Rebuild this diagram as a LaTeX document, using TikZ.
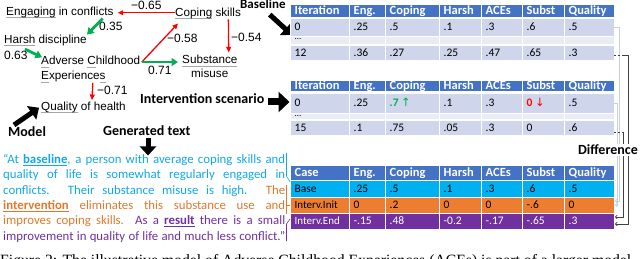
\documentclass[tikz,border=0pt]{standalone}
\usepackage{fontspec}
\setmainfont{Liberation Sans}
\newfontfamily\calfont{Carlito}
\newfontfamily\tmsfont{Liberation Serif}
\newfontfamily\djv{DejaVu Sans}
\usetikzlibrary{arrows.meta}
\definecolor{hdr}{HTML}{4472C4}
\definecolor{bandA}{HTML}{CFD5EA}
\definecolor{bandB}{HTML}{E9EBF5}
\definecolor{cyanrow}{HTML}{00B0F0}
\definecolor{orangerow}{HTML}{ED7D31}
\definecolor{purplerow}{HTML}{7030A0}
\definecolor{redA}{HTML}{FF0000}
\definecolor{greenA}{HTML}{00B050}
\definecolor{txtblue}{HTML}{12A8E8}
\definecolor{txtorange}{HTML}{E0782E}
\definecolor{txtpurple}{HTML}{7030A0}
\definecolor{ulgray}{HTML}{A6A6A6}
\definecolor{lightconn}{HTML}{C5CFE8}
\definecolor{darkconn}{HTML}{404040}
\newlength\ulw
\newcommand\gul[1]{\settowidth\ulw{#1}\rlap{\color{ulgray}\rule[-2.6pt]{\ulw}{0.9pt}}#1}
\newcommand\cul[1]{\settowidth\ulw{#1}\rlap{\rule[-2.2pt]{\ulw}{0.9pt}}#1}
\newcommand\tabrow[5]{%
  \foreach \t [count=\i from 0] in {#5} {
    \pgfmathsetmacro\xa{{290,349,385,439,481,522,564,614}[\i]}
    \pgfmathsetmacro\xb{{290,349,385,439,481,522,564,614}[\i+1]}
    \fill[#3] (\xa,#1) rectangle (\xb,#2);
    \draw[white, line width=0.9] (\xa,#1) rectangle (\xb,#2);
    \node[#4] at (\xa+4.5,{(#1+#2)/2+3.8}) {\t};
  }}
\tikzset{
  lbl/.style={font=\fontsize{11.7}{13}\selectfont, inner sep=0, anchor=base west},
  numlbl/.style={font=\fontsize{12}{14}\selectfont, inner sep=0, anchor=base west},
  redarr/.style={draw=redA, line width=1.3, -{Triangle[length=5.5,width=5]}},
  greenarr/.style={draw=greenA, line width=2.8, -{Triangle[length=6.5,width=8]}},
  fatarr/.style={draw=black, line width=5, -{Triangle[length=9,width=16]}},
  boldlbl/.style={font=\calfont\bfseries\fontsize{14}{16}\selectfont, inner sep=0, anchor=base west},
  hdrtxt/.style={font=\calfont\bfseries\fontsize{12.5}{14}\selectfont, text=white, inner sep=0, anchor=base west},
  dat/.style={font=\calfont\fontsize{11.5}{13}\selectfont, inner sep=0, anchor=base west},
  datw/.style={dat, text=white},
  lightc/.style={draw=lightconn, line width=0.7, -{To[length=2.5,width=4]}},
  darkc/.style={draw=darkconn, line width=0.7, dash pattern=on 2pt off 2pt on 2pt off 2pt on 1000pt off 0pt, -{To[length=2.5,width=4]}},
  brk/.style={line width=0.6},
}
\begin{document}
\begin{tikzpicture}[x=1pt,y=-1pt]
\useasboundingbox (0,0) rectangle (640,259);
\clip (0,0) rectangle (640,259);
% ---------------- model ----------------
\node[lbl] (eng) at (6,15.7) {\gul{Engaging} in conflicts};
\node[lbl] (cop) at (175,16.7) {\gul{Coping} skills};
\node[lbl] (har) at (4,43.3) {\gul{Harsh} discipline};
\node[lbl] (ace1) at (41,65) {\gul{A}dverse \gul{C}hildhood};
\node[lbl] (ace2) at (41,80) {\gul{E}xperience\gul{s}};
\node[lbl] (sub1) at (182,64) {\gul{Substance}};
\node[lbl] (sub2) at (191,77.5) {misuse};
\node[lbl] (qol) at (41,110.7) {\gul{Quality} of health};
\node[numlbl] (l1) at (131,10) {−0.65};
\node[numlbl] (l2) at (99,31) {0.35};
\node[numlbl] (l3) at (4,60) {0.63};
\node[numlbl] (l4) at (167,43) {−0.58};
\node[numlbl] (l5) at (231,42) {−0.54};
\node[numlbl] (l6) at (148,75) {0.71};
\node[numlbl] (l7) at (97,95) {−0.71};
\draw[redarr] (cop.west |- eng.east) -- ([xshift=4pt]eng.east);
\draw[greenarr] ([xshift=-11pt]eng.south east) -- (har.north east);
\draw[greenarr] ([xshift=21pt,yshift=-3pt]har.south west) -- ([xshift=1pt,yshift=-1pt]ace1.north west);
\draw[redarr] ([xshift=1.5pt]ace1.east) -- ([xshift=3pt,yshift=-4pt]cop.south west);
\draw[greenarr] ([xshift=1.5pt]ace1.east) -- ([xshift=-4pt]ace1.east -| sub1.west);
\draw[redarr] ([xshift=-12.7pt]cop.south east) -- ([xshift=-9pt,yshift=3pt]sub1.north east);
\draw[redarr] ([xshift=-13pt]ace2.south east) -- ([xshift=51pt,yshift=2pt]qol.north west);
% ---------------- bold labels ----------------
\node[boldlbl] (model) at (8,137) {Model};
\node[boldlbl] (gen) at (103,135.5) {Generated text};
\node[boldlbl] (intv) at (140,104) {Intervention scenario};
\node[boldlbl, font=\calfont\bfseries\fontsize{13}{15}\selectfont] (base) at (240,8.3) {Baseline};
\coordinate (gtip) at (148,155.5);
\coordinate (btip) at (292,35);
\coordinate (itip) at (289.5,102);
\draw[fatarr] ([xshift=6pt,yshift=2pt]model.north west) -- ([xshift=-2pt]qol.west);
\draw[fatarr] ([xshift=45pt,yshift=-2pt]gen.south west) -- (gtip);
\draw[fatarr, line width=7, -{Triangle[length=11,width=20]}] (268,102) -- (itip);
\draw[fatarr] ([xshift=-16pt,yshift=-6pt]base.south east) -- (btip);
% ---------------- baseline table ----------------
\tabrow{4}{17.5}{hdr}{hdrtxt}{Iteration,Eng.,Coping,Harsh,ACEs,Subst,Quality}
\tabrow{18}{36}{bandA}{dat}{0,.25,.5,.1,.3,.6,.5}
\tabrow{36.5}{44.5}{bandB}{dat}{{},{},{},{},{},{},{}}
\node[dat, font=\calfont\fontsize{9}{10}\selectfont] (bdots) at (294.5,40) {...};
\tabrow{45}{60}{bandA}{dat}{12,.36,.27,.25,.47,.65,.3}
% ---------------- intervention table ----------------
\tabrow{80}{91.5}{hdr}{hdrtxt}{Iteration,Eng.,Coping,Harsh,ACEs,Subst,Quality}
\tabrow{93}{113}{bandA}{dat}{0,.25,{\textcolor{greenA}{\bfseries .7 {\djv\mdseries ↑}}},.1,.3,{\textcolor{redA}{\bfseries 0 {\djv\mdseries ↓}}},.5}
\tabrow{113.5}{119.5}{bandB}{dat}{{},{},{},{},{},{},{}}
\node[dat, font=\calfont\fontsize{9}{10}\selectfont] (idots) at (294.5,116.5) {...};
\tabrow{120}{135}{bandA}{dat}{15,.1,.75,.05,.3,0,.6}
% ---------------- difference table ----------------
\tabrow{165}{180}{hdr}{hdrtxt}{Case,Eng.,Coping,Harsh,ACEs,Subst,Quality}
\tabrow{180.5}{197}{cyanrow}{dat}{Base,.25,.5,.1,.3,.6,.5}
\tabrow{197}{213}{orangerow}{dat}{{\fontsize{11}{12}\selectfont Interv.Init},0,.2,0,0,-.6,0}
\tabrow{213}{229}{purplerow}{datw}{{\fontsize{11}{12}\selectfont Interv.End},-.15,.48,-0.2,-.17,-.65,.3}
% ---------------- connectors on the right ----------------
\coordinate (b0e) at (614,27);
\coordinate (b12e) at (614,55);
\coordinate (i0e) at (614,103);
\coordinate (i15e) at (614,132);
\coordinate (dinitA) at (615,201);
\coordinate (dinitB) at (615,205);
\coordinate (dendA) at (615,217);
\coordinate (dendB) at (615,224);
\draw[lightc] (b0e) -- (619.5,27) |- (dinitA);
\draw[lightc] (i0e) -- (617,103) |- (dinitB);
\draw[darkc] (b12e) -- (628,55) |- (dendB);
\draw[darkc] (i15e) -- (623.5,132) |- (dendA);
\node[boldlbl, fill=white, inner sep=1pt, anchor=base east] (diff) at (639,155) {Difference};
% ---------------- generated text ----------------
\node[anchor=base west, inner sep=0] (txt) at (3,163.3) {\parbox[t]{282pt}{\calfont\fontsize{12.8}{15.4}\selectfont
\makebox[282pt][s]{\color{txtblue}“At \cul{\textbf{baseline}}, a person with average coping skills and}\\
\makebox[282pt][s]{\color{txtblue}quality of life is somewhat regularly engaged in}\\
\makebox[282pt][s]{\color{txtblue}conflicts. Their substance misuse is high. \color{txtorange}The}\\
\makebox[282pt][s]{\color{txtorange}\cul{\textbf{intervention}} eliminates this substance use and}\\
\makebox[282pt][s]{\color{txtorange}improves coping skills. \color{txtpurple}As a \cul{\textbf{result}} there is a small}\\
\makebox[282pt][s]{\color{txtpurple}improvement in quality of life and much less conflict.”}}};
\coordinate (baseW) at (290,182);
\coordinate (initW) at (290,205);
\coordinate (endW) at (290,219);
\draw[brk, txtblue] (286.5,153) -- (286.5,176) -- (baseW);
\draw[brk, txtorange] (286.5,185) -- (286.5,214);
\draw[brk, txtorange] (286.5,205) -- (initW);
\draw[brk, txtpurple] (endW) -- (286.5,224) -- (286.5,241);
% ---------------- caption (cut off by the picture's lower edge, as in the reference) ----------------
\node[anchor=base west, inner sep=0, font=\tmsfont\fontsize{15.7}{18}\selectfont] (cap) at (0,265.5) {Figure 2: The illustrative model of Adverse Childhood Experiences (ACEs) is part of a larger model};
\end{tikzpicture}
\end{document}
